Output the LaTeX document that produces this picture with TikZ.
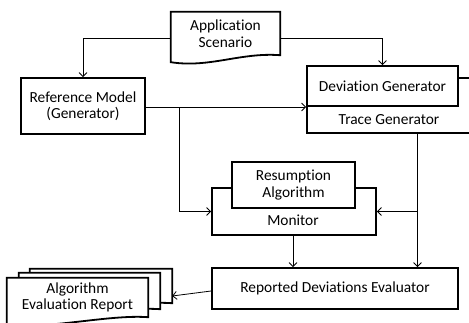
\documentclass[tikz,border=0pt]{standalone}
\usepackage{fontspec}
\setmainfont{Carlito}[Ligatures=NoCommon]
\usepackage{tikz}
\usetikzlibrary{arrows.meta,positioning,backgrounds}

\newcommand{\docoutline}[1]{%
  \draw[outline] (#1.north west) -- (#1.north east) -- (#1.south east)
    .. controls ([xshift=-40pt,yshift=3pt]#1.south east) and ([xshift=39pt,yshift=-13pt]#1.south west)
    .. ([yshift=-7pt]#1.south west) -- cycle;}

\begin{document}
\begin{tikzpicture}[
			x=1pt, y=-1pt,
			font=\fontsize{15.4}{16.5}\selectfont,
			outline/.style={draw, line width=1.8pt, fill=white},
			block/.style={
				outline, rectangle, align=center, inner sep=0pt
			},
			docu/.style={rectangle, align=center, inner sep=0pt},
			caption/.style={align=center, inner sep=0pt},
			arrow/.style={-{Straight Barb[length=4pt,width=8pt]}, line width=0.8pt}
			]
			\useasboundingbox (0,0) rectangle (469,322);
			\node[docu, minimum width=109pt, minimum height=43pt] (scen) at (225.5,33.5) {Application\\Scenario};
			\node[block, minimum width=124pt, minimum height=56pt] (ref) at (83,106) {Reference Model\\(Generator)};
			\node[block, minimum width=165pt, minimum height=55pt] (trace) at (389.5,105.5) {};
			\node[caption] (tracetxt) at (389,120) {Trace Generator};
			\node[block, minimum width=151pt, minimum height=40pt] (dev) at (382.5,86) {Deviation Generator};
			\node[block, minimum width=164pt, minimum height=47pt] (mon) at (294,211.5) {};
			\node[caption] (montxt) at (293,220) {Monitor};
			\node[block, minimum width=123pt, minimum height=46pt] (res) at (293.5,185) {Resumption\\Algorithm};
			\node[block, minimum width=246pt, minimum height=41pt] (eval) at (335,288.5) {Reported Deviations Evaluator};
			\node[docu, minimum width=142pt, minimum height=34pt] (rep3) at (101,286) {};
			\node[docu, minimum width=141pt, minimum height=36pt] (rep2) at (89.5,291) {};
			\node[docu, minimum width=141pt, minimum height=39pt] (rep) at (77.5,297.5) {Algorithm\\Evaluation Report};
			\begin{scope}[on background layer]
				\docoutline{scen}
				\docoutline{rep3}
				\docoutline{rep2}
				\docoutline{rep}
			\end{scope}
			% connectors
			\draw[arrow] ([yshift=-4.5pt]scen.west) -| (ref.north);
			\draw[arrow] ([yshift=-4.5pt]scen.east) -| (dev.north);
			\draw[arrow] ([yshift=-1pt]ref.east) -- ([yshift=-1pt]ref.east -| trace.west);
			\coordinate (refsplit) at (179,107);
			\draw[arrow] (refsplit) |- (mon.west);
			\coordinate (tracebot) at ([xshift=28pt]trace.south);
			\draw[arrow] (tracebot) -- (tracebot |- eval.north);
			\coordinate (tracesplit) at (tracebot |- mon.east);
			\draw[arrow] (tracesplit) -- (mon.east);
			\draw[arrow] ([xshift=-1pt]mon.south) -- ([xshift=-1pt]mon.south |- eval.north);
			\draw[arrow] ([yshift=-2.5pt]eval.west) -- ([yshift=-10pt]rep3.east);
		\end{tikzpicture}
\end{document}
